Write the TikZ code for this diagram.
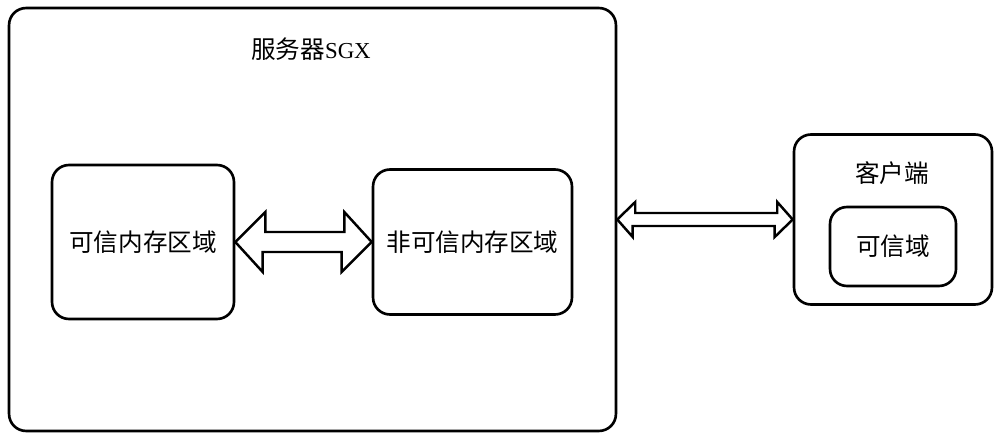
\documentclass[tikz,border=0pt]{standalone}
\usepackage{fontspec}
\setmainfont{Liberation Serif}
\newfontfamily\cjk{Noto Sans CJK SC}
\tikzset{
	box/.style={draw, line width=1.5pt, rounded corners=0.34cm, inner sep=0pt, font=\cjk\fontsize{14pt}{16pt}\selectfont},
	fatarrow/.style={draw, line width=1.4pt, fill=white, line join=miter},
	label/.style={inner sep=0pt, font=\cjk\fontsize{14pt}{16pt}\selectfont}
}
\begin{document}
\begin{tikzpicture}[x=0.02cm, y=-0.02cm]
	\useasboundingbox[fill=white] (0,0) rectangle (1000,439);
	\node[box, minimum width=12.14cm, minimum height=8.46cm] (server) at (312.5,219.5) {};
	\node[label] (servertitle) at (311,49) {服务器{\rmfamily\fontsize{13pt}{15pt}\selectfont SGX}};
	\node[box, minimum width=3.64cm, minimum height=3.08cm] (trusted) at (143,242) {可信内存区域};
	\node[box, minimum width=3.98cm, minimum height=2.9cm] (untrusted) at (472.5,242) {非可信内存区域};

	\node[box, minimum width=3.96cm, minimum height=3.4cm] (client) at (893,219.5) {};
	\node[label] (clienttitle) at (892,173) {客户端};
	\node[box, minimum width=2.52cm, minimum height=1.58cm] (domain) at (893,246.5) {可信域};

	% arrows
	\draw[fatarrow] (trusted.east) -- ++(30,-30) -- ++(0,20) -- ++(79,0) -- ++(0,-20)
		-- (untrusted.west) -- ++(-30,30) -- ++(0,-20) -- ++(-79,0) -- ++(0,20) -- cycle;
	\draw[fatarrow] (server.east) -- ++(18,-17.5) -- ++(0,11) -- ++(142,0) -- ++(0,-11)
		-- (client.west) -- ++(-18,17.5) -- ++(0,-11) -- ++(-142,0) -- ++(0,11) -- cycle;
\end{tikzpicture}
\end{document}
